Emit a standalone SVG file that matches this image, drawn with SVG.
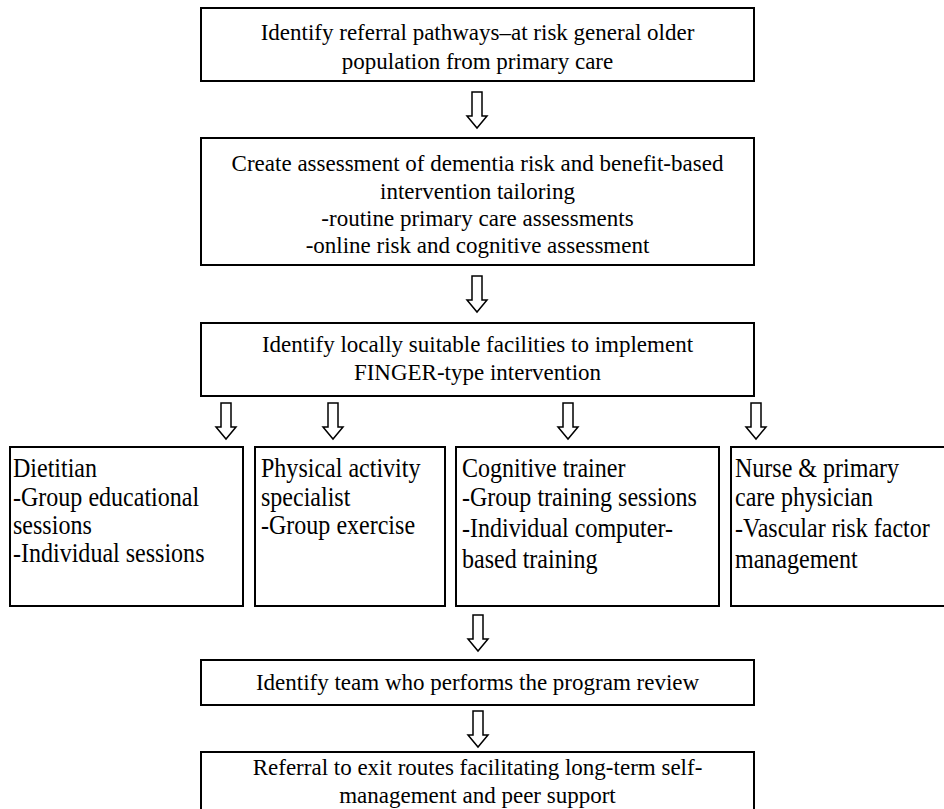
<svg xmlns="http://www.w3.org/2000/svg" width="944" height="809" viewBox="0 0 944 809">
  <style>
    .box { fill: #ffffff; stroke: #000000; stroke-width: 2; }
    .arrow { fill: #ffffff; stroke: #000000; stroke-width: 1.5; stroke-linejoin: miter; }
    .t { font-family: "Liberation Serif", "Times New Roman", serif; font-size: 23px; fill: #000000; }
    .c { text-anchor: middle; }
    .s { font-family: "Liberation Serif", "Times New Roman", serif; font-size: 27px; fill: #000000; }
  </style>
  <defs>
    <!-- hollow block arrow, 36 px tall, tip at (0,36) -->
    <path id="down" class="arrow" d="M -5 0 H 5 V 24 H 10 L 0 36 L -10 24 H -5 Z"/>
  </defs>
  <rect width="944" height="809" fill="#ffffff"/>

  <!-- connectors -->
  <g id="connectors">
    <use href="#down" x="477" y="92"/>
    <use href="#down" x="477" y="276"/>
    <use href="#down" x="226" y="403"/>
    <use href="#down" x="333" y="403"/>
    <use href="#down" x="568" y="403"/>
    <use href="#down" x="756" y="403"/>
    <use href="#down" x="478" y="615"/>
    <use href="#down" x="478" y="711"/>
  </g>

  <g id="referral">
    <rect class="box" x="201" y="8" width="553" height="73"/>
    <text class="t c" x="477.5" y="40">Identify referral pathways–at risk general older</text>
    <text class="t c" x="477.5" y="69">population from primary care</text>
  </g>

  <g id="assessment">
    <rect class="box" x="201" y="138" width="553" height="127"/>
    <text class="t c" x="477.5" y="171">Create assessment of dementia risk and benefit-based</text>
    <text class="t c" x="477.5" y="199">intervention tailoring</text>
    <text class="t c" x="477.5" y="226">-routine primary care assessments</text>
    <text class="t c" x="477.5" y="253">-online risk and cognitive assessment</text>
  </g>

  <g id="facilities">
    <rect class="box" x="201" y="323" width="553" height="73"/>
    <text class="t c" x="477.5" y="352">Identify locally suitable facilities to implement</text>
    <text class="t c" x="477.5" y="380">FINGER-type intervention</text>
  </g>

  <!-- the four team boxes use a slightly condensed face -->
  <g id="dietitian">
    <rect class="box" x="10" y="447" width="233" height="159"/>
    <g transform="translate(13,0) scale(0.89,1)">
      <text class="s" x="0" y="477">Dietitian</text>
      <text class="s" x="0" y="506">-Group educational</text>
      <text class="s" x="0" y="534">sessions</text>
      <text class="s" x="0" y="562">-Individual sessions</text>
    </g>
  </g>

  <g id="physical">
    <rect class="box" x="255" y="447" width="190" height="159"/>
    <g transform="translate(261,0) scale(0.89,1)">
      <text class="s" x="0" y="477">Physical activity</text>
      <text class="s" x="0" y="506">specialist</text>
      <text class="s" x="0" y="534">-Group exercise</text>
    </g>
  </g>

  <g id="cognitive">
    <rect class="box" x="456" y="447" width="263" height="159"/>
    <g transform="translate(462,0) scale(0.89,1)">
      <text class="s" x="0" y="477">Cognitive trainer</text>
      <text class="s" x="0" y="506">-Group training sessions</text>
      <text class="s" x="0" y="537">-Individual computer-</text>
      <text class="s" x="0" y="568">based training</text>
    </g>
  </g>

  <g id="nurse">
    <rect class="box" x="731" y="447" width="220" height="159"/>
    <g transform="translate(735,0) scale(0.89,1)">
      <text class="s" x="0" y="477">Nurse &amp; primary</text>
      <text class="s" x="0" y="506">care physician</text>
      <text class="s" x="0" y="537">-Vascular risk factor</text>
      <text class="s" x="0" y="568">management</text>
    </g>
  </g>

  <g id="review">
    <rect class="box" x="201" y="660" width="553" height="45"/>
    <text class="t c" x="477.5" y="690">Identify team who performs the program review</text>
  </g>

  <g id="exit">
    <rect class="box" x="201" y="752" width="553" height="70"/>
    <text class="t c" x="477.5" y="775">Referral to exit routes facilitating long-term self-</text>
    <text class="t c" x="477.5" y="803">management and peer support</text>
  </g>
</svg>
